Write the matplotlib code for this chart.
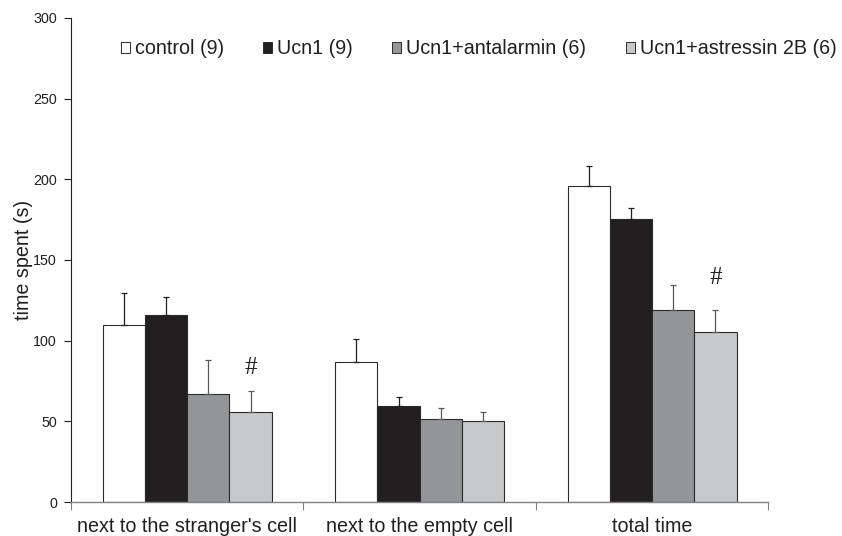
import numpy as np
import matplotlib
matplotlib.use("Agg")
import matplotlib.pyplot as plt
from matplotlib.patches import Patch

# Measured conditions and groups
categories = ["next to the stranger's cell", "next to the empty cell", "total time"]
series_names = ["control (9)", "Ucn1 (9)", "Ucn1+antalarmin (6)", "Ucn1+astressin 2B (6)"]

control_mean = [110, 87, 196]
ucn1_mean = [116, 59.5, 175.5]
antalarmin_mean = [67, 51.5, 119]
astressin_mean = [55.5, 50, 105.5]

control_sem = [19.5, 14, 12]
ucn1_sem = [10.8, 5.5, 6.5]
antalarmin_sem = [21, 6.5, 15.7]
astressin_sem = [13, 6, 13.5]

# significance marks (# vs Ucn1) on the astressin bars
sig_category = [0, 2]
sig_value = [83, 139]

y_ticks = [0, 50, 100, 150, 200, 250, 300]

means = [control_mean, ucn1_mean, antalarmin_mean, astressin_mean]
sems = [control_sem, ucn1_sem, antalarmin_sem, astressin_sem]
fills = ["#ffffff", "#231f20", "#939598", "#c7c8ca"]
err_colors = ["#231f20", "#231f20", "#58595b", "#58595b"]
edge = "#2b2b2d"
text_col = "#231f20"

plt.rcParams["font.family"] = ["Liberation Sans", "DejaVu Sans"]

fig = plt.figure(figsize=(8.42, 5.36), dpi=100)
ax = fig.add_axes([71 / 842, 1 - 502 / 536, 697.3 / 842, 484 / 536])

x = np.arange(len(categories))
w = 1 / 5.5
for i, (m, s) in enumerate(zip(means, sems)):
    xs = x + (i - 1.5) * w
    ax.bar(xs, m, width=w, color=fills[i], edgecolor=edge, linewidth=0.8,
           label=series_names[i], zorder=2)
    ax.errorbar(xs, m, yerr=[np.zeros(len(s)), s], fmt="none",
                ecolor=err_colors[i], elinewidth=0.9, capsize=2.2,
                capthick=0.9, zorder=3)

for c, v in zip(sig_category, sig_value):
    ax.text(x[c] + 1.5 * w, v, "#", ha="center", va="center",
            fontsize=18, family="Liberation Serif", color=text_col)

ax.set_xlim(-0.5, len(categories) - 0.5)
ax.set_ylim(0, 300)
ax.set_yticks(y_ticks)
ax.tick_params(axis="y", direction="out", length=5, width=0.8,
               labelsize=10.3, pad=5, colors=text_col)
ax.set_xticks(x)
ax.set_xticklabels(categories, fontsize=14.25, color=text_col)
ax.set_xticks(np.arange(len(categories) + 1) - 0.5, minor=True)
ax.tick_params(axis="x", which="major", length=0, pad=10.5)
ax.tick_params(axis="x", which="minor", direction="out", length=6,
               width=0.8, color="#808285")

for side in ("top", "right"):
    ax.spines[side].set_visible(False)
ax.spines["left"].set_color("#231f20")
ax.spines["left"].set_linewidth(0.8)
ax.spines["bottom"].set_color("#808285")
ax.spines["bottom"].set_linewidth(1.0)

ax.set_ylabel("time spent (s)", fontsize=14.25, color=text_col)
ax.yaxis.set_label_coords(-0.055, 0.5)

handles = [Patch(facecolor=fills[i], edgecolor=edge, linewidth=0.7)
           for i in range(4)]
ax.legend(handles, series_names, ncol=4, frameon=False, fontsize=14.25,
          loc="center left", bbox_to_anchor=(120.7 / 842, 1 - 49 / 536),
          bbox_transform=fig.transFigure, borderaxespad=0, borderpad=0,
          handlelength=0.45, handleheight=0.45, handletextpad=0.25,
          columnspacing=2.0, labelcolor=text_col)

fig.savefig("out.png", dpi=100)
